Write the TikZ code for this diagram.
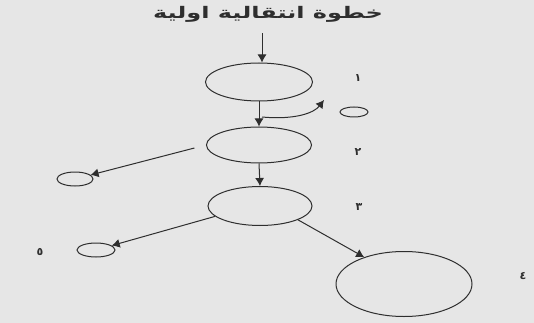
\documentclass[tikz,border=0pt]{standalone}
\usepackage{fontspec}
\newfontfamily\arabicfont[Script=Arabic]{DejaVu Sans}
\TeXXeTstate=1
\usetikzlibrary{arrows.meta,positioning,shapes.geometric}
\definecolor{SketchPaper}{HTML}{E6E6E6}
\definecolor{SketchInk}{HTML}{2E2E2E}
\tikzset{
  sstate/.style={ellipse,draw=SketchInk,line width=1pt,inner sep=0pt},
  sarrow/.style={-{Latex[length=8pt,width=9pt]},line width=1pt,SketchInk},
  snum/.style={font=\arabicfont\bfseries\fontsize{11}{13}\selectfont,text=SketchInk,inner sep=0pt},
  stitle/.style={font=\arabicfont\bfseries\fontsize{16}{19}\selectfont,text=SketchInk,
    inner sep=1pt,xscale=1.5}
}

\begin{document}
\begin{tikzpicture}[x=1pt,y=-1pt]
  \fill[SketchPaper] (0,0) rectangle (534,323);
  \path[use as bounding box] (0,0) rectangle (534,323);

  \node[stitle] (title) at (268,14) {\beginR خطوة انتقالية اولية\endR};

  \node[sstate,minimum width=107pt,minimum height=38pt] (s1) at (259,82) {};
  \node[sstate,minimum width=105pt,minimum height=36pt] (s2) at (259,145) {};
  \node[sstate,minimum width=104pt,minimum height=39pt] (s3) at (260,206) {};
  \node[sstate,minimum width=136pt,minimum height=65pt] (s4) at (404,284) {};

  \node[sstate,minimum width=28pt,minimum height=10pt] (exitC) at (354,112) {};
  \node[sstate,minimum width=36pt,minimum height=14pt] (exitA) at (75,179) {};
  \node[sstate,minimum width=38pt,minimum height=14pt] (exitB) at (96,250) {};

  \node[snum] (n1) at (358,78) {١};
  \node[snum] (n2) at (358,152) {٢};
  \node[snum] (n3) at (359,207) {٣};
  \node[snum] (n4) at (523,276) {٤};
  \node[snum] (n5) at (40,252) {٥};

  \coordinate (fork) at (262,117);
  \coordinate (loopend) at (324,100);

  \draw[sarrow,shorten <=10pt] (title.south -| fork) -- (fork |- s1.north);
  \draw[sarrow] (s1.south) -- (s2.north);
  \draw[sarrow] (s2.south) -- (s3.north);
  \draw[sarrow] (fork) .. controls (295,120) and (314,113) .. (loopend);
  \draw[sarrow,shorten <=12pt] (s2.west) -- (exitA);
  \draw[sarrow] (s3.193) -- (exitB);
  \draw[sarrow] (s3.-20) -- (s4.146);
\end{tikzpicture}
\end{document}
